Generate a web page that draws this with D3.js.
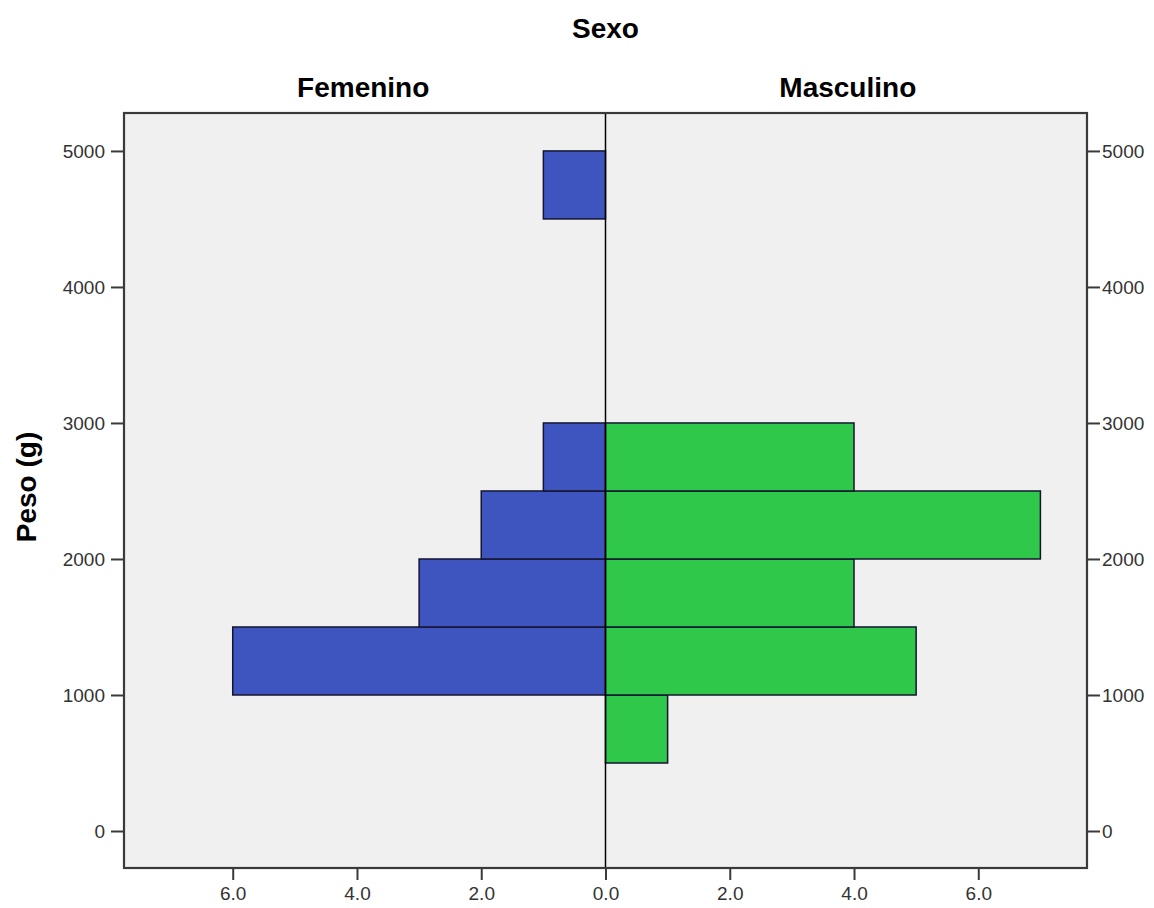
<!DOCTYPE html>
<html>
<head>
<meta charset="utf-8">
<script src="https://cdn.jsdelivr.net/npm/d3@7"></script>
<style>
  body { margin: 0; background: #fff; }
  text { font-family: "Liberation Sans", Arial, sans-serif; }
  .tick text { font-size: 19px; fill: #333; }
</style>
</head>
<body>
<svg id="chart"></svg>
<script>
// bins of weight (lower edge, g)
const binStarts = [500, 1000, 1500, 2000, 2500, 4500];
const binWidth = 500;
// counts per bin
const femenino = [0, 6, 3, 2, 1, 1];
const masculino = [1, 5, 4, 7, 4, 0];
const yTicks = [0, 1000, 2000, 3000, 4000, 5000];
const xTicks = [-6, -4, -2, 0, 2, 4, 6];

const width = 1154, height = 908;
const margin = { top: 113, right: 67, bottom: 40, left: 124 };

const svg = d3.select('#chart')
    .attr('width', width)
    .attr('height', height);

const x = d3.scaleLinear()
    .domain([-7.75, 7.75])
    .range([margin.left, width - margin.right]);

const y = d3.scaleLinear()
    .domain([-272, 5279])
    .range([height - margin.bottom, margin.top]);

// plot background
svg.append('rect')
    .attr('x', x(-7.75))
    .attr('y', y(5279))
    .attr('width', x(7.75) - x(-7.75))
    .attr('height', y(-272) - y(5279))
    .attr('fill', '#f0f0f0');

const bars = [];
binStarts.forEach((b, i) => {
    if (femenino[i] > 0) bars.push({ lo: b, n: -femenino[i], sex: 'F' });
    if (masculino[i] > 0) bars.push({ lo: b, n: masculino[i], sex: 'M' });
});

svg.append('g').selectAll('rect')
    .data(bars)
    .join('rect')
    .attr('x', d => Math.min(x(0), x(d.n)))
    .attr('width', d => Math.abs(x(d.n) - x(0)))
    .attr('y', d => y(d.lo + binWidth))
    .attr('height', d => y(d.lo) - y(d.lo + binWidth))
    .attr('fill', d => d.sex == 'F' ? '#3e54bf' : '#2fc84a')
    .attr('stroke', '#151530')
    .attr('stroke-width', 1.5);

// center line
svg.append('line')
    .attr('x1', x(0)).attr('x2', x(0))
    .attr('y1', y(5279)).attr('y2', y(-272))
    .attr('stroke', '#000')
    .attr('stroke-width', 1.5);

// frame
svg.append('rect')
    .attr('x', x(-7.75))
    .attr('y', y(5279))
    .attr('width', x(7.75) - x(-7.75))
    .attr('height', y(-272) - y(5279))
    .attr('fill', 'none')
    .attr('stroke', '#3a3a3a')
    .attr('stroke-width', 2.2);

// axes
const yLeft = d3.axisLeft(y).tickValues(yTicks).tickSize(13).tickPadding(6).tickFormat(d3.format('d'));
const yRight = d3.axisRight(y).tickValues(yTicks).tickSize(13).tickPadding(2).tickFormat(d3.format('d'));
const xBottom = d3.axisBottom(x).tickValues(xTicks).tickSize(12).tickPadding(7)
    .tickFormat(d => Math.abs(d).toFixed(1));

[
    svg.append('g').attr('transform', `translate(${margin.left},0)`).call(yLeft),
    svg.append('g').attr('transform', `translate(${width - margin.right},0)`).call(yRight),
    svg.append('g').attr('transform', `translate(0,${height - margin.bottom})`).call(xBottom)
].forEach(g => {
    g.select('.domain').remove();
    g.selectAll('.tick line').attr('stroke', '#3a3a3a').attr('stroke-width', 2);
});

// titles
svg.append('text')
    .attr('x', x(0)).attr('y', 38)
    .attr('text-anchor', 'middle')
    .attr('font-size', 28).attr('font-weight', 'bold')
    .text('Sexo');

svg.append('text')
    .attr('x', x(-3.9)).attr('y', 97)
    .attr('text-anchor', 'middle')
    .attr('font-size', 28).attr('font-weight', 'bold')
    .text('Femenino');

svg.append('text')
    .attr('x', x(3.9)).attr('y', 97)
    .attr('text-anchor', 'middle')
    .attr('font-size', 28).attr('font-weight', 'bold')
    .text('Masculino');

svg.append('text')
    .attr('transform', `translate(36,487) rotate(-90)`)
    .attr('text-anchor', 'middle')
    .attr('font-size', 28).attr('font-weight', 'bold')
    .text('Peso (g)');
</script>
</body>
</html>
